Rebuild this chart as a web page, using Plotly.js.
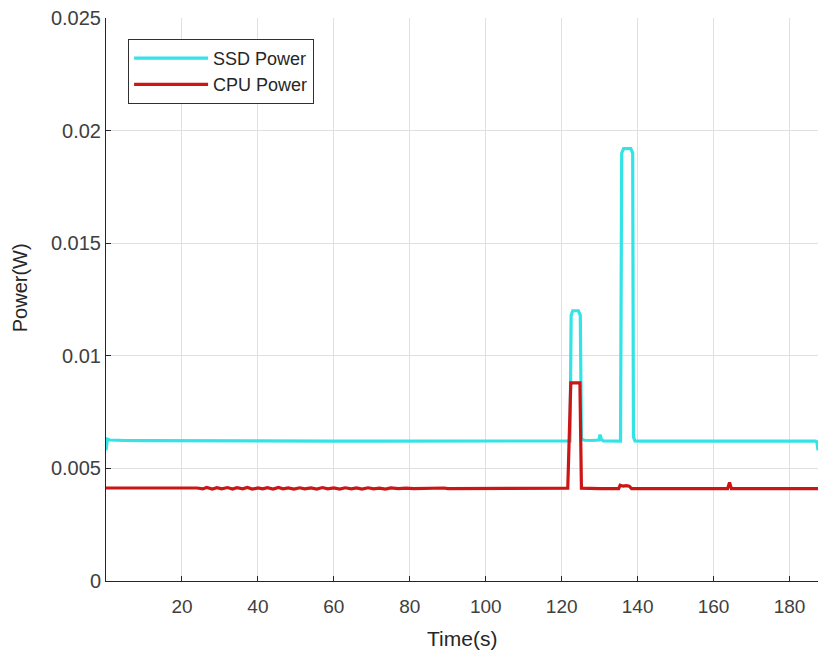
<!DOCTYPE html>
<html>
<head>
<meta charset="utf-8">
<script src="https://cdn.plot.ly/plotly-3.0.1.min.js"></script>
<style>
  html, body { margin: 0; padding: 0; background: #fff; }
  #chart { width: 820px; height: 656px; }
</style>
</head>
<body>
<div id="chart"></div>
<script>
// SSD power trace (W) over time (s)
const ssdTime = [0, 0.4, 1, 2, 5, 10, 20, 30, 40, 50, 60, 70, 80, 90, 100, 110, 120,
  122.2, 122.5, 122.9, 124.4, 124.9, 125.2, 126, 128, 129.8, 130.1, 130.5, 131, 133, 135.5,
  135.8, 136.3, 138.2, 138.7, 138.9, 139.3, 141, 150, 160, 170, 180, 186.8, 187.2, 187.5];
const ssdPower = [0.0058, 0.0063, 0.00626, 0.00625, 0.00624, 0.00623, 0.00622, 0.00622, 0.00621,
  0.00621, 0.00621, 0.00621, 0.00621, 0.00622, 0.00621, 0.00621, 0.00621,
  0.00622, 0.0118, 0.0120, 0.0120, 0.0118, 0.0063, 0.00625, 0.00624, 0.00626, 0.0065, 0.00627,
  0.00622, 0.00621, 0.00621,
  0.0190, 0.0192, 0.0192, 0.0190, 0.0064, 0.00622, 0.00621, 0.00621, 0.00622, 0.00621,
  0.00621, 0.00621, 0.00618, 0.0058];

// CPU power trace (W) over time (s)
const cpuTime = [0, 5, 10, 15, 20, 22, 24, 25.5, 26.5, 28, 29.2, 30.5, 32, 33.3, 34.5, 36, 37.2,
  38.5, 40, 41.3, 42.5, 44, 45.4, 46.6, 48, 49.5, 51, 52.3, 54, 55.5, 57, 58.4, 60, 61.5, 63,
  64.6, 66, 67.4, 69, 70.5, 72, 73.6, 75, 77, 79, 81, 83, 85, 87, 89, 90, 92, 100, 110, 120,
  121.6, 122.4, 124.8, 125.2, 127, 130, 135, 135.4, 136.2, 137, 137.8, 138.4, 140, 150, 160,
  163.7, 164.2, 164.7, 170, 180, 187.5];
const cpuPower = [0.00413, 0.00413, 0.00413, 0.00413, 0.00413, 0.00412, 0.00413, 0.00409,
  0.00415, 0.00408, 0.00414, 0.00409, 0.00415, 0.00408, 0.00414, 0.00409, 0.00415, 0.00408,
  0.00413, 0.00409, 0.00414, 0.00408, 0.00415, 0.00409, 0.00413, 0.00408, 0.00414, 0.00409,
  0.00413, 0.00408, 0.00415, 0.00409, 0.00413, 0.00408, 0.00414, 0.00409, 0.00413, 0.00408,
  0.00414, 0.00409, 0.00412, 0.00408, 0.00413, 0.0041, 0.00412, 0.0041, 0.00411, 0.0041,
  0.00411, 0.00413, 0.0041, 0.0041, 0.0041, 0.0041, 0.0041,
  0.00412, 0.0088, 0.0088, 0.00412, 0.0041, 0.0041, 0.0041, 0.00425, 0.00421, 0.00423,
  0.00421, 0.0041, 0.0041, 0.0041, 0.0041,
  0.0041, 0.00437, 0.0041, 0.0041, 0.0041, 0.0041];

const seriesNames = ['SSD Power', 'CPU Power'];
const seriesColors = ['#33e3e6', '#cc1616'];

const xTicks = [20, 40, 60, 80, 100, 120, 140, 160, 180];
const yTicks = [0, 0.005, 0.01, 0.015, 0.02, 0.025];
const yTickText = ['0', '0.005', '0.01', '0.015', '0.02', '0.025'];

const xTitle = 'Time(s)';
const yTitle = 'Power(W)';

const traces = [
  { x: ssdTime, y: ssdPower, name: seriesNames[0], type: 'scatter', mode: 'lines',
    line: { color: seriesColors[0], width: 3.2 } },
  { x: cpuTime, y: cpuPower, name: seriesNames[1], type: 'scatter', mode: 'lines',
    line: { color: seriesColors[1], width: 3.2 } }
];

const font = 'Liberation Sans, Arial, sans-serif';

const layout = {
  width: 820, height: 656,
  margin: { l: 106, r: 2, t: 18, b: 75 },
  paper_bgcolor: '#ffffff', plot_bgcolor: '#ffffff',
  font: { family: font, size: 19, color: '#404040' },
  showlegend: true,
  legend: {
    x: 0.031, y: 0.963, xanchor: 'left', yanchor: 'top',
    bgcolor: '#ffffff', bordercolor: '#303030', borderwidth: 1,
    font: { family: font, size: 18, color: '#262626' },
    itemwidth: 74
  },
  xaxis: {
    range: [0, 187.5],
    tickvals: xTicks,
    ticks: 'inside', ticklen: 5, tickcolor: '#262626',
    showline: true, linecolor: '#262626', linewidth: 1,
    showgrid: true, gridcolor: '#e0e0e0', gridwidth: 1,
    zeroline: false,
    tickfont: { size: 19, color: '#404040' },
    ticklabelstandoff: 8
  },
  yaxis: {
    range: [0, 0.025],
    tickvals: yTicks, ticktext: yTickText,
    ticks: 'inside', ticklen: 5, tickcolor: '#262626',
    showline: true, linecolor: '#262626', linewidth: 1,
    showgrid: true, gridcolor: '#e0e0e0', gridwidth: 1,
    zeroline: false,
    tickfont: { size: 20, color: '#404040' }
  },
  annotations: [
    { text: xTitle, xref: 'paper', yref: 'paper', x: 0.5, y: 0, yshift: -57,
      xanchor: 'center', yanchor: 'middle', showarrow: false,
      font: { family: font, size: 21, color: '#262626' } },
    { text: yTitle, xref: 'paper', yref: 'paper', x: 0, y: 0.52, xshift: -86,
      xanchor: 'center', yanchor: 'middle', textangle: -90, showarrow: false,
      font: { family: font, size: 20, color: '#262626' } }
  ]
};

Plotly.newPlot('chart', traces, layout, { staticPlot: true, displayModeBar: false });
</script>
</body>
</html>
